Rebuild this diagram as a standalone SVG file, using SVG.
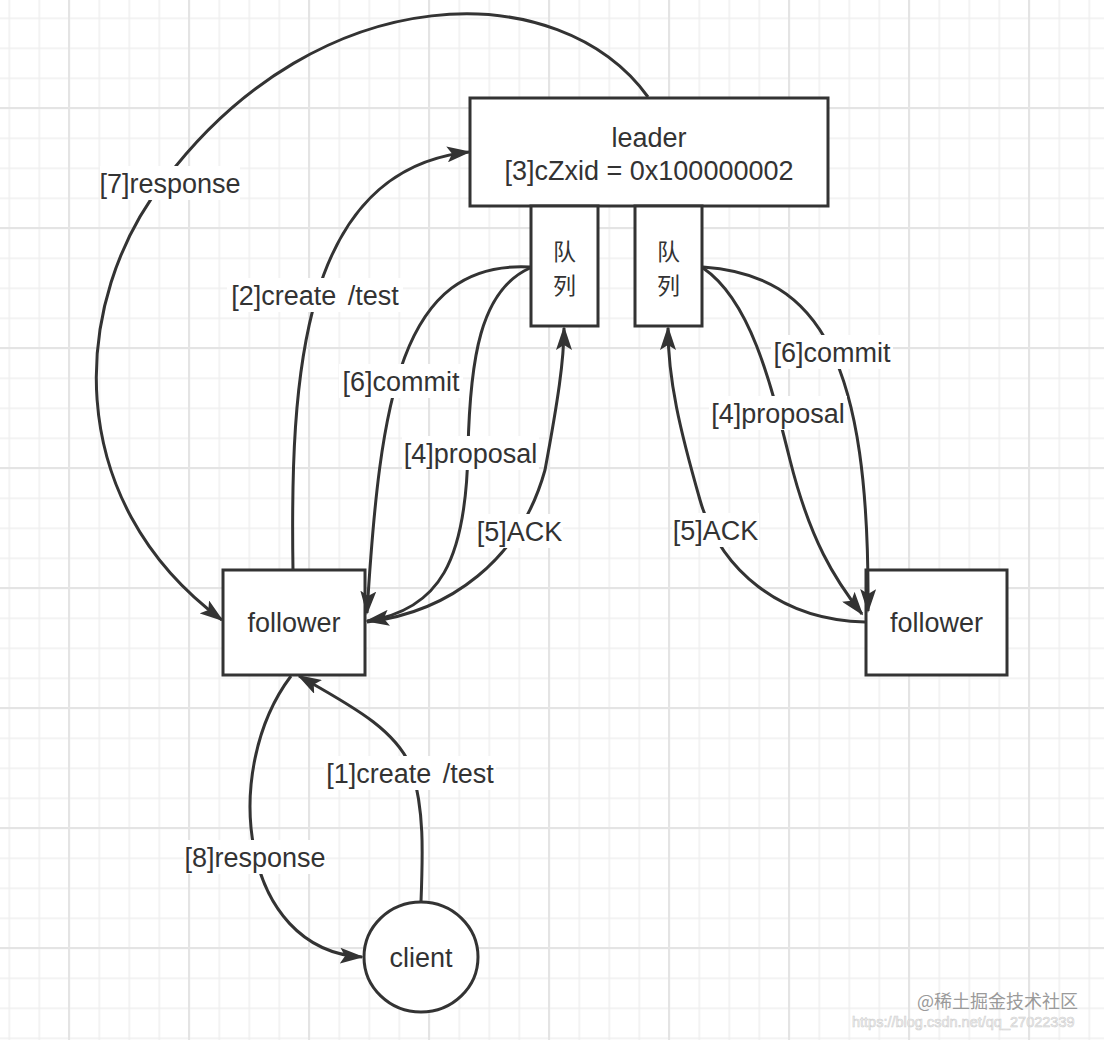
<svg xmlns="http://www.w3.org/2000/svg" width="1104" height="1040" viewBox="0 0 1104 1040">
<style>
.node{fill:#fff;stroke:#333;stroke-width:3}
.edge{fill:none;stroke:#333;stroke-width:3;marker-end:url(#arr)}
.lbg{fill:#fff}
text{font-family:"Liberation Sans","Noto Sans CJK SC",sans-serif;font-size:27px;fill:#333;text-anchor:middle}
.cjk{font-family:"Noto Sans CJK SC","Liberation Sans",sans-serif;font-size:23px}
.wm1{font-family:"Noto Sans CJK SC",sans-serif;font-size:18px;fill:#9a9a9a;text-anchor:start}
.wm2{font-size:14.5px;fill:#f6f6f6;stroke:#cfcfcf;stroke-width:0.6;text-anchor:start}
</style>
<defs>
<pattern id="gmin" patternUnits="userSpaceOnUse" x="8.5" y="17.5" width="30" height="30">
<rect width="30" height="1.5" fill="#efefef"/><rect width="1.5" height="30" fill="#efefef"/>
</pattern>
<pattern id="gmaj" patternUnits="userSpaceOnUse" x="68" y="107" width="120" height="120">
<rect width="120" height="2" fill="#e4e4e4"/><rect width="2" height="120" fill="#e4e4e4"/>
</pattern>
<marker id="arr" markerUnits="userSpaceOnUse" viewBox="0 0 24 16" markerWidth="24" markerHeight="16" refX="22" refY="8" orient="auto">
<path d="M0,0 L24,8 L0,16 L5,8 Z" fill="#333"/>
</marker>
</defs>
<rect width="1104" height="1040" fill="#fff"/>
<rect width="1104" height="1040" fill="url(#gmin)"/>
<rect width="1104" height="1040" fill="url(#gmaj)"/>

<g id="leader">
<rect class="node" x="470" y="98" width="358" height="108"/>
<text x="649" y="146.5">leader</text>
<text x="649" y="179.5">[3]cZxid = 0x100000002</text>
</g>
<g id="queue1">
<rect class="node" x="531" y="206" width="67" height="120"/>
<text class="cjk" x="564.5" y="260">队</text>
<text class="cjk" x="564.5" y="294">列</text>
</g>
<g id="queue2">
<rect class="node" x="635" y="206" width="67" height="120"/>
<text class="cjk" x="668.5" y="260">队</text>
<text class="cjk" x="668.5" y="294">列</text>
</g>
<g id="follower-left">
<rect class="node" x="223" y="570" width="142" height="105"/>
<text x="294" y="631.5">follower</text>
</g>
<g id="follower-right">
<rect class="node" x="866" y="570" width="141" height="105"/>
<text x="936.5" y="631.5">follower</text>
</g>
<g id="client">
<ellipse class="node" cx="421" cy="957" rx="57" ry="55"/>
<text x="421" y="967">client</text>
</g>

<g id="connectors">
<path class="edge" d="M421 902 C423 850 424 810 412 770 C398 730 350 705 299 676"/>
<path class="edge" d="M291 676 C220 770 240 950 362 957"/>
<path class="edge" d="M293 570 C290 380 300 170 469 152"/>
<path class="edge" d="M648 97 C560 -25 320 -25 165 180 C70 300 60 500 222 620"/>
<path class="edge" d="M530 267 C400 260 380 400 367 613"/>
<path class="edge" d="M530 268 C480 290 470 360 468 450 C466 560 440 610 367 621"/>
<path class="edge" d="M367 622 C450 612 520 560 545 470 C558 400 564 360 564 328"/>
<path class="edge" d="M703 267 C820 275 870 360 868 611"/>
<path class="edge" d="M703 268 C750 300 770 380 790 460 C810 540 835 580 862 614"/>
<path class="edge" d="M865 622 C780 620 720 570 700 500 C680 430 668 380 668 328"/>
</g>

<g id="labels">
<rect class="lbg" x="100" y="166" width="140" height="34"/>
<text x="170" y="192.5">[7]response</text>
<rect class="lbg" x="227" y="278" width="176" height="34"/>
<text x="315" y="304.5" word-spacing="4">[2]create /test</text>
<rect class="lbg" x="339" y="364" width="124" height="34"/>
<text x="401" y="390.5">[6]commit</text>
<rect class="lbg" x="402" y="436" width="137" height="34"/>
<text x="470.5" y="462.5">[4]proposal</text>
<rect class="lbg" x="476" y="514" width="87" height="34"/>
<text x="519.5" y="540.5">[5]ACK</text>
<rect class="lbg" x="771" y="335" width="122" height="34"/>
<text x="832" y="361.5">[6]commit</text>
<rect class="lbg" x="709" y="396" width="138" height="34"/>
<text x="778" y="422.5">[4]proposal</text>
<rect class="lbg" x="672" y="513" width="87" height="34"/>
<text x="715.5" y="539.5">[5]ACK</text>
<rect class="lbg" x="324" y="756" width="172" height="34"/>
<text x="410" y="782.5" word-spacing="4">[1]create /test</text>
<rect class="lbg" x="184" y="840" width="142" height="34"/>
<text x="255" y="866.5">[8]response</text>
</g>

<g id="watermark">
<text class="wm1" x="917" y="1008">@稀土掘金技术社区</text>
<text class="wm2" x="852" y="1027">https://blog.csdn.net/qq_27022339</text>
</g>
</svg>
